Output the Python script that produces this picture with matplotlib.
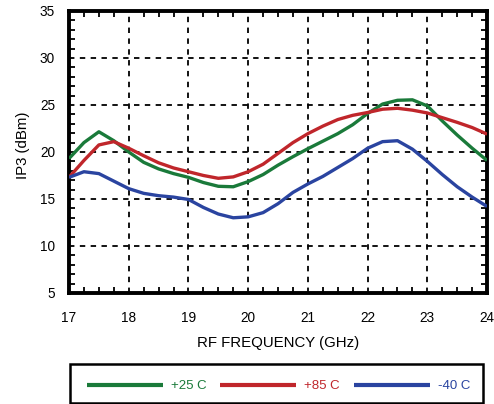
import matplotlib
matplotlib.use("Agg")
import matplotlib.pyplot as plt
from matplotlib.ticker import MultipleLocator
from matplotlib.patches import Rectangle

plt.rcParams['font.family'] = ['Liberation Sans', 'DejaVu Sans']

freq = [17.0, 17.25, 17.5, 17.75, 18.0, 18.25, 18.5, 18.75, 19.0, 19.25, 19.5, 19.75,
        20.0, 20.25, 20.5, 20.75, 21.0, 21.25, 21.5, 21.75, 22.0, 22.25, 22.5, 22.75,
        23.0, 23.25, 23.5, 23.75, 24.0]
ip3_25 = [19.3, 21.0, 22.15, 21.2, 20.0, 18.9, 18.2, 17.7, 17.3, 16.75, 16.35, 16.3,
          16.85, 17.6, 18.6, 19.5, 20.35, 21.15, 21.95, 22.9, 24.1, 25.1, 25.5, 25.55,
          24.9, 23.3, 21.8, 20.4, 19.1]
ip3_85 = [17.3, 19.1, 20.75, 21.1, 20.4, 19.6, 18.85, 18.3, 17.9, 17.5, 17.2, 17.35,
          17.9, 18.7, 19.85, 21.0, 21.95, 22.75, 23.45, 23.9, 24.2, 24.55, 24.65, 24.45,
          24.15, 23.65, 23.15, 22.6, 21.9]
ip3_m40 = [17.3, 17.9, 17.7, 16.9, 16.1, 15.6, 15.35, 15.2, 14.95, 14.1, 13.4, 13.0,
           13.1, 13.55, 14.5, 15.7, 16.6, 17.4, 18.35, 19.3, 20.4, 21.1, 21.2, 20.3,
           19.0, 17.6, 16.3, 15.2, 14.2]
labels = ['+25 C', '+85 C', '-40 C']
colors = ['#1a7a3a', '#c0262b', '#2a44a0']
xticks = [17, 18, 19, 20, 21, 22, 23, 24]
yticks = [5, 10, 15, 20, 25, 30, 35]

fig = plt.figure(figsize=(4.94, 4.04), dpi=100)
ax = fig.add_axes([0.1397, 0.2748, 0.8463, 0.698])

lines = []
for y, c, lab in zip([ip3_25, ip3_85, ip3_m40], colors, labels):
    ln, = ax.plot(freq, y, color=c, lw=2.4, label=lab,
                  solid_joinstyle='round', solid_capstyle='butt', zorder=3)
    lines.append(ln)

ax.set_xlim(17, 24)
ax.set_ylim(5, 35)
ax.set_xticks(xticks)
ax.set_yticks(yticks)
ax.xaxis.set_minor_locator(MultipleLocator(0.25))
ax.yaxis.set_minor_locator(MultipleLocator(1))
ax.tick_params(which='both', direction='in', top=True, right=True, color='black')
ax.tick_params(which='major', length=0, labelsize=9.8)
ax.tick_params(axis='x', which='major', pad=13)
ax.tick_params(axis='y', which='major', pad=10)
ax.tick_params(which='minor', length=4, width=1.3)
ax.grid(True, which='major', color='black', linestyle=(0, (3, 3)), linewidth=1.3)
for s in ax.spines.values():
    s.set_linewidth(2.8)

ax.set_xlabel('RF FREQUENCY (GHz)', fontsize=10.8, labelpad=8)
ax.set_ylabel('IP3 (dBm)', fontsize=10.8)
ax.yaxis.set_label_coords(-0.093, 0.525)

leg = fig.legend(handles=lines, loc='center', ncol=3,
                 bbox_to_anchor=(278.5 / 494, 1 - 386 / 404),
                 frameon=False, fontsize=9.5,
                 handlelength=5.76, handletextpad=0.6, columnspacing=1.06,
                 borderaxespad=0, borderpad=0)
for t, c in zip(leg.get_texts(), colors):
    t.set_color(c)
for h in leg.legend_handles:
    h.set_linewidth(3)
fig.patches.append(Rectangle((70 / 494, 1 - 403 / 404), 413 / 494, 39 / 404,
                             transform=fig.transFigure, fill=False,
                             edgecolor='black', linewidth=1.8))

fig.savefig('out.png', dpi=100)
